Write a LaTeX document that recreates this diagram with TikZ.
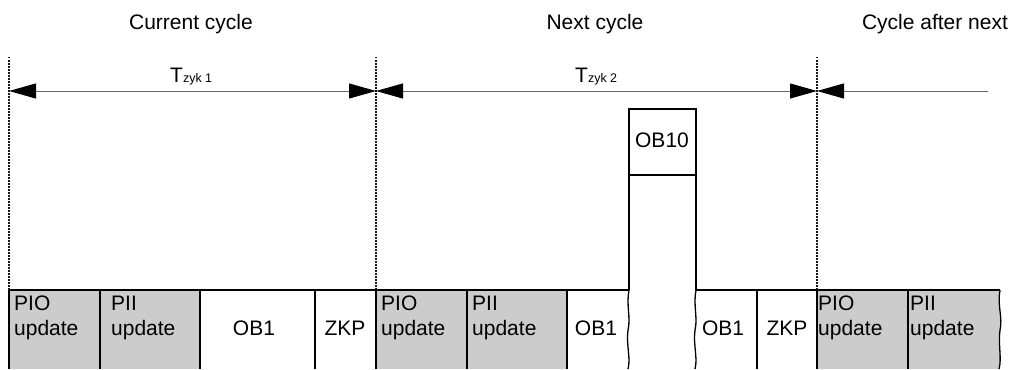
\documentclass[tikz,border=0pt]{standalone}
\usepackage{fontspec}
\setmainfont{Liberation Sans}
\usetikzlibrary{arrows.meta}
\begin{document}
\begin{tikzpicture}[x=1pt,y=-1pt,
  lbl/.style={font=\fontsize{21}{25}\selectfont, inner sep=0pt},
  gbox/.style={fill=black!20},
  edge/.style={line width=1.3pt, black},
  dotline/.style={line width=1.1pt, black!90, dash pattern=on 1.5pt off 1.5pt},
  tline/.style={line width=1pt, black!60}
]
\useasboundingbox (0,0) rectangle (1016,369);

% coordinates for cycle boundaries
\coordinate (d1t) at (9,57);   \coordinate (d1b) at (9,290);
\coordinate (d2t) at (376,57); \coordinate (d2b) at (376,290);
\coordinate (d3t) at (817,57); \coordinate (d3b) at (817,290);
\coordinate (a1) at (9,91);
\coordinate (a2) at (376,91);
\coordinate (a3) at (817,91);
\coordinate (a4) at (988,91);

% titles
\node[lbl, anchor=base] (cur) at (191,30) {Current cycle};
\node[lbl, anchor=base] (nxt) at (595,30) {Next cycle};
\node[lbl, anchor=base] (aft) at (935,30) {Cycle after next};

% dotted boundaries
\draw[dotline] (d1t) -- (d1b);
\draw[dotline] (d2t) -- (d2b);
\draw[dotline] (d3t) -- (d3b);

% cycle time arrows
\draw[tline, {Triangle[length=27pt,width=15pt,color=black]}-{Triangle[length=27pt,width=15pt,color=black]}] (a1) -- (a2);
\draw[tline, {Triangle[length=27pt,width=15pt,color=black]}-{Triangle[length=27pt,width=15pt,color=black]}] (a2) -- (a3);
\draw[tline, {Triangle[length=27pt,width=15pt,color=black]}-] (a3) -- (a4);

\node[lbl, anchor=base west] (t1) at (170,82) {T\fontsize{12.5}{14}\selectfont zyk 1};
\node[lbl, anchor=base west] (t2) at (575,82) {T\fontsize{12.5}{14}\selectfont zyk 2};

% gray fills
\fill[gbox] (9,290) rectangle (100,369);
\fill[gbox] (100,290) rectangle (200,369);
\fill[gbox] (376,290) rectangle (467,369);
\fill[gbox] (467,290) rectangle (567,369);
\fill[gbox] (817,290) rectangle (908,369);
\fill[gbox] (908,290) -- (1000,290) .. controls (997,305) and (1003,318) .. (1000,330) .. controls (998,345) and (1002,358) .. (999,369) -- (908,369) -- cycle;

% top edge of the block row
\draw[edge] (9,290) -- (629,290);
\draw[edge] (696,290) -- (1000,290);

% straight separators
\foreach \x in {9,100,200,315,376,467,567,757,817,908}
  \draw[edge] (\x,290) -- (\x,369);

% wavy separators
\draw[edge] (629,290) .. controls (626,305) and (631,318) .. (628,330) .. controls (626,345) and (631,358) .. (628,369);
\draw[edge] (696,290) .. controls (693,305) and (698,318) .. (695,330) .. controls (693,345) and (698,358) .. (695,369);
\draw[edge] (1000,290) .. controls (997,305) and (1003,318) .. (1000,330) .. controls (998,345) and (1002,358) .. (999,369);

% OB10 interrupt block
\draw[edge] (629,290) -- (629,109) -- (696,109) -- (696,290);
\draw[edge] (629,175) -- (696,175);
\node[lbl, anchor=base] (ob10) at (662,147) {OB10};

% block labels (anchor = baseline of last line)
\node[lbl, anchor=base west, align=left] (pio1) at (14,335) {PIO\\update};
\node[lbl, anchor=base west, align=left] (pii1) at (111,335) {PII\\update};
\node[lbl, anchor=base] (ob1a) at (254,335) {OB1};
\node[lbl, anchor=base] (zkp1) at (345,335) {ZKP};
\node[lbl, anchor=base west, align=left] (pio2) at (381,335) {PIO\\update};
\node[lbl, anchor=base west, align=left] (pii2) at (472,335) {PII\\update};
\node[lbl, anchor=base] (ob1b) at (596,335) {OB1};
\node[lbl, anchor=base] (ob1c) at (723,335) {OB1};
\node[lbl, anchor=base] (zkp2) at (787,335) {ZKP};
\node[lbl, anchor=base west, align=left] (pio3) at (818,335) {PIO\\update};
\node[lbl, anchor=base west, align=left] (pii3) at (910,335) {PII\\update};
\end{tikzpicture}
\end{document}
